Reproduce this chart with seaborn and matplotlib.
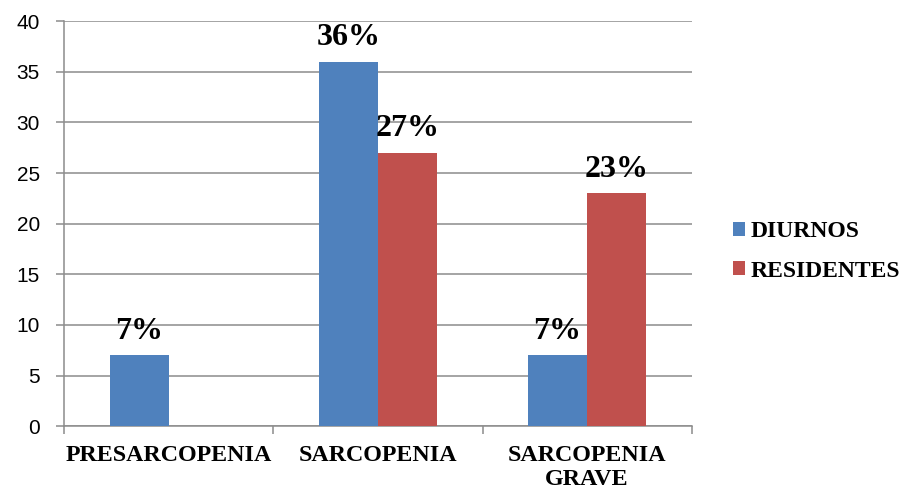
import matplotlib
matplotlib.use("Agg")
import matplotlib.pyplot as plt
from matplotlib.ticker import FixedLocator, MultipleLocator
import seaborn as sns
import pandas as pd

categorias = ["PRESARCOPENIA", "SARCOPENIA", "SARCOPENIA\nGRAVE"]
diurnos = [7, 36, 7]
residentes = [0, 27, 23]
grupos = ["DIURNOS", "RESIDENTES"]
colores = ["#4F81BD", "#C0504D"]

df = pd.DataFrame({
    "categoria": categorias * 2,
    "valor": diurnos + residentes,
    "grupo": [grupos[0]] * 3 + [grupos[1]] * 3,
})

sns.set_style("white")
plt.rcParams.update({"text.color": "black", "xtick.color": "black",
                     "ytick.color": "black"})
serif = ["Liberation Serif", "DejaVu Serif"]
gris = "#8C8C8C"

fig = plt.figure(figsize=(9.03, 4.91), dpi=100)
ax = fig.add_axes([0.071, 0.132, 0.695, 0.825])

sns.barplot(data=df, x="categoria", y="valor", hue="grupo", order=categorias,
            hue_order=grupos, palette=colores, saturation=1, width=0.565,
            linewidth=0, ax=ax, zorder=3)

ax.set_ylim(0, 40)
ax.set_xlim(-0.5, 2.5)
ax.yaxis.set_major_locator(MultipleLocator(5))
ax.grid(axis="y", color=gris, linewidth=1.1, zorder=0)
ax.set_axisbelow(True)
ax.set_xlabel("")
ax.set_ylabel("")

for side in ("top", "right"):
    ax.spines[side].set_visible(False)
for side in ("left", "bottom"):
    ax.spines[side].set_color(gris)
    ax.spines[side].set_linewidth(1.1)

# Category names at centres, tick marks at the category boundaries
ax.xaxis.set_minor_locator(FixedLocator([-0.5, 0.5, 1.5, 2.5]))
ax.tick_params(axis="x", which="major", length=0, pad=13.5, labelcolor="black")
ax.tick_params(axis="x", which="minor", length=5.5, width=1.1, color=gris,
               direction="out", bottom=True)
ax.tick_params(axis="y", length=5.5, width=1.1, color=gris, direction="out",
               left=True, pad=12, labelsize=15, labelcolor="black")
for lab in ax.get_yticklabels():
    lab.set_fontfamily(["Liberation Sans", "DejaVu Sans"])
for lab in ax.get_xticklabels():
    lab.set_fontfamily(serif)
    lab.set_fontweight("bold")
    lab.set_fontsize(17.3)
    lab.set_linespacing(1.2)

# Percentage labels above the bars
for cont, vals in zip(ax.containers, [diurnos, residentes]):
    ax.bar_label(cont, labels=[f"{v}%" if v else "" for v in vals],
                 padding=7, fontsize=23, fontweight="bold", fontfamily=serif,
                 color="black")

handles, labels = ax.get_legend_handles_labels()
leg = ax.legend(handles, labels, loc="center left", bbox_to_anchor=(0.7985, 0.488),
                bbox_transform=fig.transFigure, frameon=False, borderpad=0,
                handlelength=0.5, handleheight=0.5, handletextpad=0.25,
                labelspacing=0.78,
                prop={"family": serif, "weight": "bold", "size": 17})
for t in leg.get_texts():
    t.set_color("black")

fig.savefig("out.png", dpi=100)
